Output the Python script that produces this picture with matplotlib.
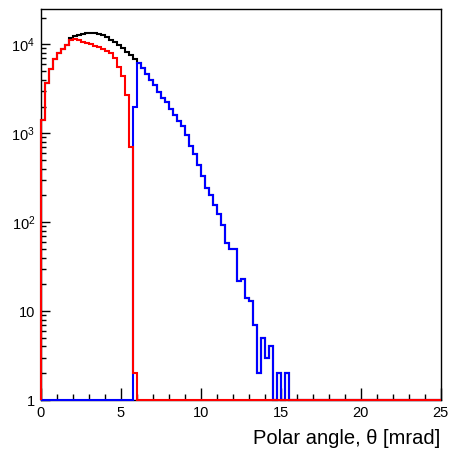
import matplotlib; matplotlib.use("Agg")
import matplotlib.pyplot as plt
from matplotlib.ticker import LogLocator, MultipleLocator, NullFormatter
import numpy as np

plt.rcParams["font.family"] = ["Liberation Sans", "DejaVu Sans"]
plt.rcParams["mathtext.fontset"] = "custom"
plt.rcParams["mathtext.rm"] = "Liberation Sans"
plt.rcParams["mathtext.it"] = "Liberation Sans:italic"

# 100 bins of 0.25 mrad, 0-25 mrad; trailing bins are empty
NBINS = 100
XMIN, XMAX = 0, 25
YMIN, YMAX = 1, 2.5e4

black_counts = [1400, 3700, 5300, 6900, 7900, 8900, 9900, 11700, 12300, 12800,
                13200, 13500, 13600, 13500, 13200, 12700, 12000, 11300, 10600, 9800,
                9000, 8300, 7600, 6800, 6150, 5400, 4700, 3950, 3500, 2950,
                2500, 2250, 1900, 1620, 1380, 1200, 960, 720, 580, 440,
                330, 240, 200, 155, 123, 93, 59, 50, 50, 22,
                23, 14, 13, 7, 2, 5, 3, 4, 0, 2,
                0, 2]
red_counts = [1400, 3700, 5300, 6900, 7900, 8900, 9900, 11100, 11500, 11300,
              10600, 10300, 10000, 9700, 9300, 8900, 8500, 8000, 7000, 5600,
              4400, 2700, 700, 2]
blue_counts = [0, 0, 0, 0, 0, 0, 0, 0, 0, 0,
               0, 0, 0, 0, 0, 0, 0, 0, 0, 0,
               0, 0, 0, 1950, 6150, 5400, 4700, 3950, 3500, 2950,
               2500, 2250, 1900, 1620, 1380, 1200, 960, 720, 580, 440,
               330, 240, 200, 155, 123, 93, 59, 50, 50, 22,
               23, 14, 13, 7, 2, 5, 3, 4, 0, 2,
               0, 2]

def full(v):
    return np.array(v + [0] * (NBINS - len(v)), float)

edges = np.linspace(XMIN, XMAX, NBINS + 1)

fig = plt.figure(figsize=(4.52, 4.55), dpi=100)
ax = fig.add_axes([40.7/452, 1-400/455, 400/452, 391/455])

# ROOT draws empty bins on the axis floor of a log plot
for vals, col in [(black_counts, "black"), (blue_counts, "blue"), (red_counts, "red")]:
    v = full(vals)
    v = np.where(v > 0, v, YMIN)
    ax.stairs(v, edges, baseline=YMIN, color=col, lw=1.5, zorder=3, clip_on=False)

ax.set_yscale("log")
ax.set_xlim(XMIN, XMAX); ax.set_ylim(YMIN, YMAX)
ax.set_yticks([1, 10, 100, 1000, 10000],
              labels=["1", "10", r"$\mathregular{10^{2}}$", r"$\mathregular{10^{3}}$", r"$\mathregular{10^{4}}$"])
ax.yaxis.set_minor_locator(LogLocator(base=10, subs=range(2, 10)))
ax.yaxis.set_minor_formatter(NullFormatter())
ax.set_xticks(range(0, 26, 5))
ax.xaxis.set_minor_locator(MultipleLocator(1))
ax.tick_params(which="both", direction="in", top=False, right=False, width=1, labelsize=10.5)
ax.tick_params(axis="x", which="major", length=8.6, pad=4)
ax.tick_params(axis="x", which="minor", length=4.3)
ax.tick_params(axis="y", which="major", length=6.5, pad=4)
ax.tick_params(axis="y", which="minor", length=3.6)
for s in ax.spines.values(): s.set_linewidth(1)

ax.set_xlabel("Polar angle, θ [mrad]", loc="right", fontsize=14.5, labelpad=7)

fig.savefig("out.png", dpi=100)
